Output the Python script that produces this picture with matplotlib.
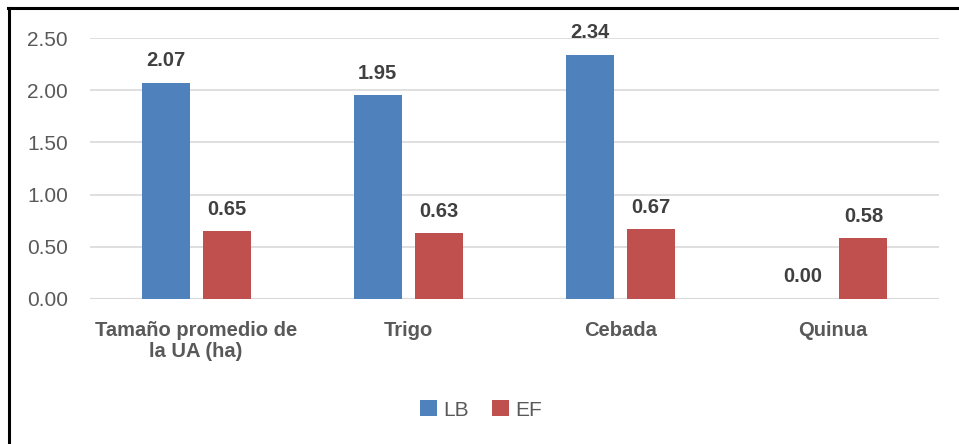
import matplotlib.pyplot as plt
from matplotlib.lines import Line2D
import numpy as np

categories = ['Tamaño promedio de\nla UA (ha)', 'Trigo', 'Cebada', 'Quinua']
lb = [2.07, 1.95, 2.34, 0.00]
ef = [0.65, 0.63, 0.67, 0.58]
yticks = [0.0, 0.5, 1.0, 1.5, 2.0, 2.5]

blue = '#4F81BD'
red = '#C0504D'
fam = ['Liberation Sans', 'DejaVu Sans']

fig = plt.figure(figsize=(9.59, 4.44), dpi=100)
ax = fig.add_axes([90 / 959, 1 - 299 / 444, 849 / 959, 261 / 444])

x = np.arange(len(categories))
w = 0.226
off = 0.1437
b1 = ax.bar(x - off, lb, w, color=blue, label='LB', zorder=3)
b2 = ax.bar(x + off, ef, w, color=red, label='EF', zorder=3)

for bars, vals in ((b1, lb), (b2, ef)):
    for r, v in zip(bars, vals):
        ax.annotate(f'{v:.2f}', (r.get_x() + r.get_width() / 2, v),
                    xytext=(0, 9), textcoords='offset points',
                    ha='center', va='bottom', fontsize=14.5, fontweight='bold',
                    color='#404040', family=fam)

ax.set_xlim(-0.5, 3.5)
ax.set_ylim(0, 2.5)
ax.set_yticks(yticks)
ax.set_yticklabels([f'{t:.2f}' for t in yticks], fontsize=15,
                   color='#595959', family=fam)
ax.set_xticks(x)
ax.set_xticklabels(categories, fontsize=14.5, fontweight='bold',
                   color='#595959', family=fam, linespacing=1.15)
ax.tick_params(axis='both', length=0)
ax.tick_params(axis='y', pad=16)
ax.tick_params(axis='x', pad=16)
ax.grid(axis='y', color='#D9D9D9', linewidth=1.2, zorder=0)
for s in ax.spines.values():
    s.set_visible(False)
ax.axhline(0, color='#D9D9D9', linewidth=1.5, zorder=2)

leg = fig.legend(handles=[b1, b2], labels=['LB', 'EF'], loc='center',
                 bbox_to_anchor=(481 / 959, 1 - 410 / 444), ncol=2,
                 frameon=False, handlelength=0.8, handleheight=0.8,
                 handletextpad=0.3, columnspacing=1.1,
                 prop={'family': fam, 'size': 15})
for t in leg.get_texts():
    t.set_color('#595959')

# frame lines (top and left only, as in the reference)
fig.add_artist(Line2D([8 / 959, 1], [1 - 8.5 / 444, 1 - 8.5 / 444],
                      transform=fig.transFigure, color='black', linewidth=2.2))
fig.add_artist(Line2D([8.5 / 959, 8.5 / 959], [0, 1 - 8.5 / 444],
                      transform=fig.transFigure, color='black', linewidth=2.2))

fig.savefig('out.png', dpi=100)
